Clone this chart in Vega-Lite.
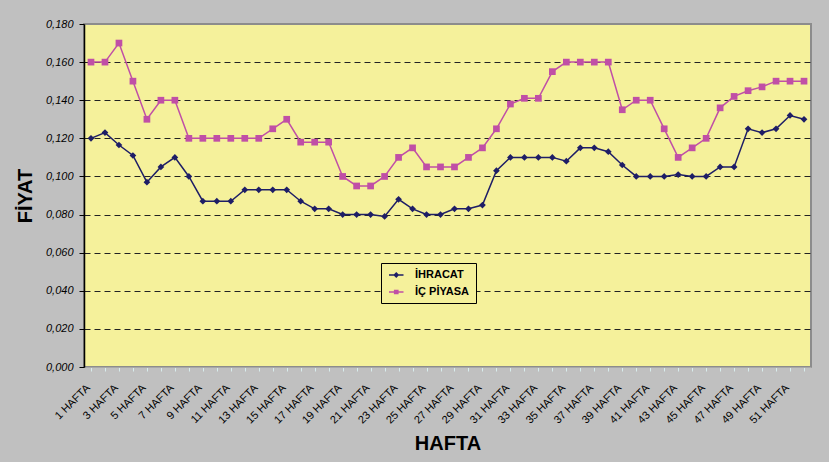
{
  "$schema": "https://vega.github.io/schema/vega-lite/v6.json",
  "autosize": {"type": "none"},
  "width": 727,
  "height": 343,
  "padding": {"left": 84, "top": 24, "right": 18, "bottom": 95},
  "background": "#C0C0C0",
  "config": {
    "font": "Liberation Sans",
    "view": {"fill": "#F5F19B", "stroke": "#8C8C8C", "strokeWidth": 2}
  },
  "data": {
    "values": [
      {"week": 1, "series": "İHRACAT", "value": 0.120}, {"week": 2, "series": "İHRACAT", "value": 0.123}, {"week": 3, "series": "İHRACAT", "value": 0.1165}, {"week": 4, "series": "İHRACAT", "value": 0.111}, {"week": 5, "series": "İHRACAT", "value": 0.097}, {"week": 6, "series": "İHRACAT", "value": 0.105}, {"week": 7, "series": "İHRACAT", "value": 0.110}, {"week": 8, "series": "İHRACAT", "value": 0.100}, {"week": 9, "series": "İHRACAT", "value": 0.087}, {"week": 10, "series": "İHRACAT", "value": 0.087},
      {"week": 11, "series": "İHRACAT", "value": 0.087}, {"week": 12, "series": "İHRACAT", "value": 0.093}, {"week": 13, "series": "İHRACAT", "value": 0.093}, {"week": 14, "series": "İHRACAT", "value": 0.093}, {"week": 15, "series": "İHRACAT", "value": 0.093}, {"week": 16, "series": "İHRACAT", "value": 0.087}, {"week": 17, "series": "İHRACAT", "value": 0.083}, {"week": 18, "series": "İHRACAT", "value": 0.083}, {"week": 19, "series": "İHRACAT", "value": 0.080}, {"week": 20, "series": "İHRACAT", "value": 0.080},
      {"week": 21, "series": "İHRACAT", "value": 0.080}, {"week": 22, "series": "İHRACAT", "value": 0.079}, {"week": 23, "series": "İHRACAT", "value": 0.088}, {"week": 24, "series": "İHRACAT", "value": 0.083}, {"week": 25, "series": "İHRACAT", "value": 0.080}, {"week": 26, "series": "İHRACAT", "value": 0.080}, {"week": 27, "series": "İHRACAT", "value": 0.083}, {"week": 28, "series": "İHRACAT", "value": 0.083}, {"week": 29, "series": "İHRACAT", "value": 0.085}, {"week": 30, "series": "İHRACAT", "value": 0.103},
      {"week": 31, "series": "İHRACAT", "value": 0.110}, {"week": 32, "series": "İHRACAT", "value": 0.110}, {"week": 33, "series": "İHRACAT", "value": 0.110}, {"week": 34, "series": "İHRACAT", "value": 0.110}, {"week": 35, "series": "İHRACAT", "value": 0.108}, {"week": 36, "series": "İHRACAT", "value": 0.115}, {"week": 37, "series": "İHRACAT", "value": 0.115}, {"week": 38, "series": "İHRACAT", "value": 0.113}, {"week": 39, "series": "İHRACAT", "value": 0.106}, {"week": 40, "series": "İHRACAT", "value": 0.100},
      {"week": 41, "series": "İHRACAT", "value": 0.100}, {"week": 42, "series": "İHRACAT", "value": 0.100}, {"week": 43, "series": "İHRACAT", "value": 0.101}, {"week": 44, "series": "İHRACAT", "value": 0.100}, {"week": 45, "series": "İHRACAT", "value": 0.100}, {"week": 46, "series": "İHRACAT", "value": 0.105}, {"week": 47, "series": "İHRACAT", "value": 0.105}, {"week": 48, "series": "İHRACAT", "value": 0.125}, {"week": 49, "series": "İHRACAT", "value": 0.123}, {"week": 50, "series": "İHRACAT", "value": 0.125},
      {"week": 51, "series": "İHRACAT", "value": 0.132}, {"week": 52, "series": "İHRACAT", "value": 0.130},
      {"week": 1, "series": "İÇ PİYASA", "value": 0.160}, {"week": 2, "series": "İÇ PİYASA", "value": 0.160}, {"week": 3, "series": "İÇ PİYASA", "value": 0.170}, {"week": 4, "series": "İÇ PİYASA", "value": 0.150}, {"week": 5, "series": "İÇ PİYASA", "value": 0.130}, {"week": 6, "series": "İÇ PİYASA", "value": 0.140}, {"week": 7, "series": "İÇ PİYASA", "value": 0.140}, {"week": 8, "series": "İÇ PİYASA", "value": 0.120}, {"week": 9, "series": "İÇ PİYASA", "value": 0.120}, {"week": 10, "series": "İÇ PİYASA", "value": 0.120},
      {"week": 11, "series": "İÇ PİYASA", "value": 0.120}, {"week": 12, "series": "İÇ PİYASA", "value": 0.120}, {"week": 13, "series": "İÇ PİYASA", "value": 0.120}, {"week": 14, "series": "İÇ PİYASA", "value": 0.125}, {"week": 15, "series": "İÇ PİYASA", "value": 0.130}, {"week": 16, "series": "İÇ PİYASA", "value": 0.118}, {"week": 17, "series": "İÇ PİYASA", "value": 0.118}, {"week": 18, "series": "İÇ PİYASA", "value": 0.118}, {"week": 19, "series": "İÇ PİYASA", "value": 0.100}, {"week": 20, "series": "İÇ PİYASA", "value": 0.095},
      {"week": 21, "series": "İÇ PİYASA", "value": 0.095}, {"week": 22, "series": "İÇ PİYASA", "value": 0.100}, {"week": 23, "series": "İÇ PİYASA", "value": 0.110}, {"week": 24, "series": "İÇ PİYASA", "value": 0.115}, {"week": 25, "series": "İÇ PİYASA", "value": 0.105}, {"week": 26, "series": "İÇ PİYASA", "value": 0.105}, {"week": 27, "series": "İÇ PİYASA", "value": 0.105}, {"week": 28, "series": "İÇ PİYASA", "value": 0.110}, {"week": 29, "series": "İÇ PİYASA", "value": 0.115}, {"week": 30, "series": "İÇ PİYASA", "value": 0.125},
      {"week": 31, "series": "İÇ PİYASA", "value": 0.138}, {"week": 32, "series": "İÇ PİYASA", "value": 0.141}, {"week": 33, "series": "İÇ PİYASA", "value": 0.141}, {"week": 34, "series": "İÇ PİYASA", "value": 0.155}, {"week": 35, "series": "İÇ PİYASA", "value": 0.160}, {"week": 36, "series": "İÇ PİYASA", "value": 0.160}, {"week": 37, "series": "İÇ PİYASA", "value": 0.160}, {"week": 38, "series": "İÇ PİYASA", "value": 0.160}, {"week": 39, "series": "İÇ PİYASA", "value": 0.135}, {"week": 40, "series": "İÇ PİYASA", "value": 0.140},
      {"week": 41, "series": "İÇ PİYASA", "value": 0.140}, {"week": 42, "series": "İÇ PİYASA", "value": 0.125}, {"week": 43, "series": "İÇ PİYASA", "value": 0.110}, {"week": 44, "series": "İÇ PİYASA", "value": 0.115}, {"week": 45, "series": "İÇ PİYASA", "value": 0.120}, {"week": 46, "series": "İÇ PİYASA", "value": 0.136}, {"week": 47, "series": "İÇ PİYASA", "value": 0.142}, {"week": 48, "series": "İÇ PİYASA", "value": 0.145}, {"week": 49, "series": "İÇ PİYASA", "value": 0.147}, {"week": 50, "series": "İÇ PİYASA", "value": 0.150},
      {"week": 51, "series": "İÇ PİYASA", "value": 0.150}, {"week": 52, "series": "İÇ PİYASA", "value": 0.150}
    ]
  },
  "encoding": {
    "x": {
      "field": "week", "type": "ordinal", "sort": "ascending",
      "scale": {"paddingInner": 0, "paddingOuter": 0},
      "axis": {
        "title": "HAFTA", "titleFont": "Liberation Sans", "titleFontSize": 20, "titleFontWeight": "bold", "titleColor": "#000000", "titlePadding": 8,
        "labelExpr": "datum.value % 2 == 1 ? datum.value + ' HAFTA' : ''",
        "labelAngle": -45, "labelAlign": "right", "labelBaseline": "middle", "labelFontSize": 11, "labelColor": "#000000", "labelPadding": 15,
        "labelOffset": -3, "labelOverlap": false,
        "domainColor": "#A8A8A8", "tickColor": "#D8ECEC", "tickSize": 4, "bandPosition": 0, "grid": false
      }
    },
    "y": {
      "field": "value", "type": "quantitative",
      "scale": {"domain": [0, 0.18], "nice": false},
      "axis": {
        "title": "FİYAT", "titleFont": "Liberation Sans", "titleFontSize": 20, "titleFontWeight": "bold", "titleColor": "#000000", "titlePadding": 10,
        "values": [0, 0.02, 0.04, 0.06, 0.08, 0.1, 0.12, 0.14, 0.16, 0.18],
        "labelExpr": "replace(format(datum.value, '.3f'), '.', ',')",
        "labelFontStyle": "italic", "labelFontSize": 11, "labelColor": "#000000", "labelPadding": 6,
        "domainColor": "#000000", "domainWidth": 1.5, "tickColor": "#000000", "tickSize": 5,
        "grid": true, "gridColor": "#222222", "gridDash": [6, 4], "gridWidth": 1,
        "gridOpacity": {"expr": "datum.value > 0 && datum.value < 0.18 ? 1 : 0"}
      }
    },
    "color": {
      "field": "series", "type": "nominal",
      "scale": {"domain": ["İHRACAT", "İÇ PİYASA"], "range": ["#1E1E66", "#C04FA6"]},
      "legend": {
        "title": null, "orient": "none", "legendX": 297, "legendY": 239,
        "fillColor": "#F5F19B", "strokeColor": "#000000", "padding": 6,
        "labelFont": "Liberation Sans", "labelFontWeight": "bold", "labelFontSize": 11, "labelColor": "#000000",
        "symbolSize": 100, "rowPadding": 6, "labelOffset": 16,
        "encode": {
          "symbols": {
            "update": {
              "shape": {"signal": "datum.value == 'İHRACAT' ? 'M-0.8,0H2.1M0.65,-0.38L1.03,0L0.65,0.38L0.27,0Z' : 'M-0.8,0H2.1M0.33,-0.32H0.97V0.32H0.33Z'"},
              "fill": {"signal": "scale('color', datum.value)"},
              "stroke": {"signal": "scale('color', datum.value)"},
              "strokeWidth": {"value": 1.5},
              "opacity": {"value": 1}
            }
          }
        }
      }
    }
  },
  "layer": [
    {"mark": {"type": "line", "strokeWidth": 1.5}},
    {"transform": [{"filter": "datum.series == 'İHRACAT'"}], "mark": {"type": "point", "shape": "diamond", "filled": true, "size": 45, "opacity": 1}},
    {"transform": [{"filter": "datum.series == 'İÇ PİYASA'"}], "mark": {"type": "point", "shape": "square", "filled": true, "size": 45, "opacity": 1}}
  ]
}
